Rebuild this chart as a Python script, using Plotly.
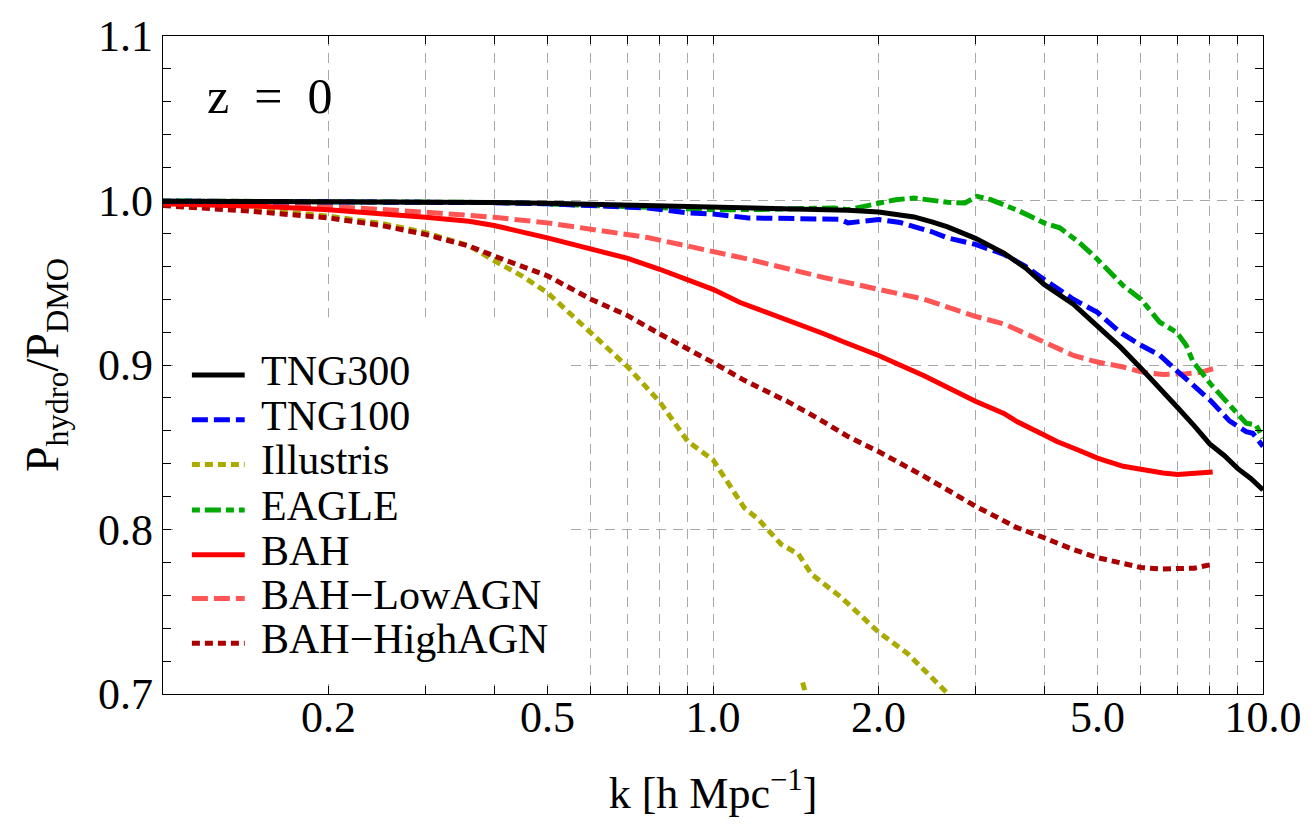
import plotly.graph_objects as go

# ---------------- data ----------------
tng300_k = [0.1, 0.15, 0.2, 0.3, 0.4, 0.5, 0.6, 0.76, 1.0, 1.2, 1.5, 1.76, 2.0, 2.2, 2.32,
            2.5, 2.67, 3.0, 3.38, 3.7, 4.0, 4.52, 5.0, 5.5, 6.0, 6.5, 7.0, 7.5, 8.0, 8.5,
            9.0, 9.5, 10.0]
tng300_r = [0.9996, 0.9995, 0.9994, 0.9991, 0.9988, 0.9983, 0.9977, 0.9965, 0.9955, 0.9950,
            0.9946, 0.9941, 0.9930, 0.9915, 0.9900, 0.9870, 0.9840, 0.9770, 0.9680, 0.9590,
            0.9490, 0.9370, 0.9240, 0.9110, 0.8980, 0.8860, 0.8740, 0.8630, 0.8520, 0.8450,
            0.8370, 0.8310, 0.8240]

tng100_k = [0.1, 0.2, 0.3, 0.4, 0.5, 0.6, 0.76, 0.9, 1.0, 1.16, 1.3, 1.53, 1.7, 1.76, 1.9,
            2.0, 2.19, 2.32, 2.5, 2.67, 3.0, 3.38, 3.7, 4.0, 4.52, 5.0, 5.49, 6.0, 6.49, 7.0,
            7.56, 8.05, 8.69, 9.0, 9.32, 9.58, 10.0]
tng100_r = [0.9996, 0.9994, 0.9991, 0.9987, 0.9980, 0.9970, 0.9955, 0.9925, 0.9918, 0.9894,
            0.9890, 0.9888, 0.9886, 0.9864, 0.9880, 0.9884, 0.9866, 0.9844, 0.9810, 0.9773,
            0.9733, 0.9673, 0.9600, 0.9520, 0.9400, 0.9320, 0.9200, 0.9120, 0.9060, 0.8960,
            0.8860, 0.8780, 0.8660, 0.8626, 0.8595, 0.8585, 0.8505]

illustris_k = [0.1, 0.15, 0.2, 0.25, 0.3, 0.36, 0.4, 0.45, 0.5, 0.6, 0.7, 0.8, 0.9, 1.0,
               1.14, 1.21, 1.33, 1.43, 1.51, 1.71, 2.0, 2.26, 2.69, None, 1.455, 1.49]
illustris_r = [0.9975, 0.9945, 0.9905, 0.9860, 0.9805, 0.9725, 0.9635, 0.9540, 0.9440, 0.9200,
               0.8988, 0.8776, 0.8535, 0.8424, 0.8132, 0.8061, 0.7910, 0.7850, 0.7729, 0.7588,
               0.7376, 0.7245, 0.6993, None, 0.7070, 0.6950]

eagle_k = [0.1, 0.2, 0.3, 0.4, 0.5, 0.6, 0.76, 1.0, 1.2, 1.5, 1.66, 1.76, 1.9, 2.0, 2.15,
           2.32, 2.5, 2.67, 2.87, 3.02, 3.2, 3.38, 3.61, 4.0, 4.27, 4.64, 5.0, 5.57, 6.0,
           6.49, 6.96, 7.25, 7.46, 8.05, 8.69, 9.0, 9.32, 9.71, 10.0]
eagle_r = [0.9997, 0.9995, 0.9992, 0.9988, 0.9980, 0.9970, 0.9955, 0.9944, 0.9945, 0.9950,
           0.9955, 0.9944, 0.9970, 0.9985, 1.0005, 1.0015, 1.0000, 0.9989, 0.9985, 1.0025,
           1.0005, 0.9975, 0.9935, 0.9864, 0.9834, 0.9743, 0.9643, 0.9482, 0.9400, 0.9260,
           0.9200, 0.9120, 0.9020, 0.8880, 0.8760, 0.8700, 0.8646, 0.8636, 0.8555]

bah_k = [0.1, 0.15, 0.2, 0.25, 0.3, 0.36, 0.4, 0.5, 0.6, 0.7, 0.8, 0.9, 1.0, 1.12, 1.33,
         1.59, 1.73, 2.0, 2.42, 3.0, 3.38, 3.57, 4.0, 4.22, 4.6, 5.0, 5.57, 6.0, 6.58, 7.0,
         7.5, 8.1]
bah_r = [0.9980, 0.9965, 0.9944, 0.9922, 0.9898, 0.9874, 0.9848, 0.9773, 0.9708, 0.9648,
         0.9582, 0.9520, 0.9460, 0.9380, 0.9290, 0.9190, 0.9140, 0.9058, 0.8935, 0.8780,
         0.8706, 0.8656, 0.8575, 0.8535, 0.8485, 0.8434, 0.8384, 0.8364, 0.8343, 0.8335,
         0.8340, 0.8350]

lowagn_k = [0.1, 0.15, 0.2, 0.3, 0.4, 0.5, 0.6, 0.7, 0.76, 0.9, 1.16, 1.59, 2.0, 2.42, 3.0,
            3.38, 4.0, 4.52, 5.0, 5.57, 6.0, 6.58, 7.25, 7.7, 8.13]
lowagn_r = [0.9985, 0.9976, 0.9965, 0.9929, 0.9898, 0.9864, 0.9824, 0.9794, 0.9775, 0.9723,
            0.9643, 0.9532, 0.9460, 0.9400, 0.9295, 0.9250, 0.9140, 0.9058, 0.9018, 0.8988,
            0.8958, 0.8942, 0.8947, 0.8955, 0.8978]

highagn_k = [0.1, 0.144, 0.2, 0.25, 0.3, 0.36, 0.4, 0.5, 0.6, 0.7, 0.8, 0.9, 1.0, 1.14, 1.37,
             1.55, 1.76, 2.0, 2.42, 3.0, 3.57, 4.0, 4.5, 5.0, 5.5, 6.0, 6.5, 7.0, 7.5, 8.0]
highagn_r = [0.9969, 0.9935, 0.9894, 0.9848, 0.9794, 0.9723, 0.9663, 0.9542, 0.9400, 0.9300,
             0.9189, 0.9100, 0.9015, 0.8907, 0.8776, 0.8676, 0.8565, 0.8474, 0.8323, 0.8142,
             0.8011, 0.7950, 0.7880, 0.7829, 0.7795, 0.7769, 0.7760, 0.7759, 0.7765, 0.7785]

series_names = ["TNG300", "TNG100", "Illustris", "EAGLE", "BAH",
                "BAH\u2212LowAGN", "BAH\u2212HighAGN"]
x_tick_vals = [0.2, 0.5, 1.0, 2.0, 5.0, 10.0]
x_tick_text = ["0.2", "0.5", "1.0", "2.0", "5.0", "10.0"]
x_minor_vals = [0.3, 0.4, 0.6, 0.7, 0.8, 0.9, 3.0, 4.0, 6.0, 7.0, 8.0, 9.0]
y_tick_vals = [0.7, 0.8, 0.9, 1.0, 1.1]
y_tick_text = ["0.7", "0.8", "0.9", "1.0", "1.1"]

# ---------------- styles ----------------
colors = ["#000000", "#0000FF", "#AAAA00", "#00AA00", "#FF0000", "#FF5555", "#AA0000"]
dashes = ["solid", "16px,6px", "8px,5px", "8px,5px,16px,5px", "solid", "16px,6px", "8px,5px"]
LW = 5
FONT = "Liberation Serif, Times New Roman, serif"
GRID = "#a8a8a8"
GRIDDASH = "10px,7px"

data = [(tng300_k, tng300_r), (tng100_k, tng100_r), (illustris_k, illustris_r),
        (eagle_k, eagle_r), (bah_k, bah_r), (lowagn_k, lowagn_r), (highagn_k, highagn_r)]

fig = go.Figure()
order = [2, 6, 5, 4, 3, 1, 0]
for i in order:
    kx, ry = data[i]
    fig.add_trace(go.Scatter(x=kx, y=ry, mode="lines", name=series_names[i],
                             line=dict(color=colors[i], width=LW, dash=dashes[i]),
                             showlegend=False, connectgaps=False))

PT, PB, PL, PW = 32, 694, 163, 1104
def px2py(y):
    return (PB - y) / (PB - PT)
def px2px(x):
    return (x - PL) / PW

# white legend panel (hides the grid; keeps the frame ticks visible)
fig.add_shape(type="rect", xref="paper", yref="paper", x0=px2px(173), x1=px2px(570),
              y0=px2py(684), y1=px2py(315), fillcolor="white", line=dict(width=0),
              layer="above")

# manual legend
leg_y_px = [373, 418, 463, 509, 554, 598, 643]
for i, ypx in enumerate(leg_y_px):
    fig.add_shape(type="line", xref="paper", yref="paper",
                  x0=px2px(192), x1=px2px(245), y0=px2py(ypx), y1=px2py(ypx),
                  line=dict(color=colors[i], width=LW, dash=dashes[i]), layer="above")
    fig.add_annotation(xref="paper", yref="paper", x=px2px(259), y=px2py(ypx - 4),
                       text=series_names[i], showarrow=False, xanchor="left",
                       yanchor="middle", font=dict(size=42, family=FONT, color="black"))

fig.add_annotation(xref="paper", yref="paper", x=px2px(270), y=px2py(92),
                   text="z\u2002=\u20020", showarrow=False, xanchor="center",
                   yanchor="middle", font=dict(size=50, family=FONT, color="black"))

axis_common = dict(showline=True, linecolor="black", linewidth=1.3, mirror="ticks",
                   ticks="inside", tickcolor="black", tickwidth=1.2, ticklen=8,
                   showgrid=True, gridcolor=GRID, griddash=GRIDDASH, gridwidth=1.3,
                   zeroline=False, tickfont=dict(size=44, family=FONT, color="black"))

fig.update_xaxes(type="log", range=[-1, 1], tickmode="array", tickvals=x_tick_vals,
                 ticktext=x_tick_text, ticklabelstandoff=-16,
                 minor=dict(tickmode="array", tickvals=x_minor_vals, ticks="inside",
                            ticklen=8, tickcolor="black", tickwidth=1.2, showgrid=True,
                            gridcolor=GRID, griddash=GRIDDASH, gridwidth=1.3),
                 title=dict(text="k [h Mpc<sup>\u22121</sup>]",
                            font=dict(size=44, family=FONT, color="black"), standoff=36),
                 **axis_common)
fig.update_yaxes(range=[0.7, 1.1], tickmode="array", tickvals=y_tick_vals,
                 ticktext=y_tick_text,
                 minor=dict(tick0=0.7, dtick=0.02, ticks="inside", ticklen=8,
                            tickcolor="black", tickwidth=1.2, showgrid=False),
                 title=dict(text="P<sub>hydro</sub>/P<sub>DMO</sub>",
                            font=dict(size=46, family=FONT, color="black"), standoff=24),
                 **axis_common)

fig.update_layout(width=1314, height=827, margin=dict(l=163, r=47, t=32, b=133),
                  paper_bgcolor="white", plot_bgcolor="white", showlegend=False,
                  font=dict(family=FONT, color="black"))

fig.write_html("out.html")
